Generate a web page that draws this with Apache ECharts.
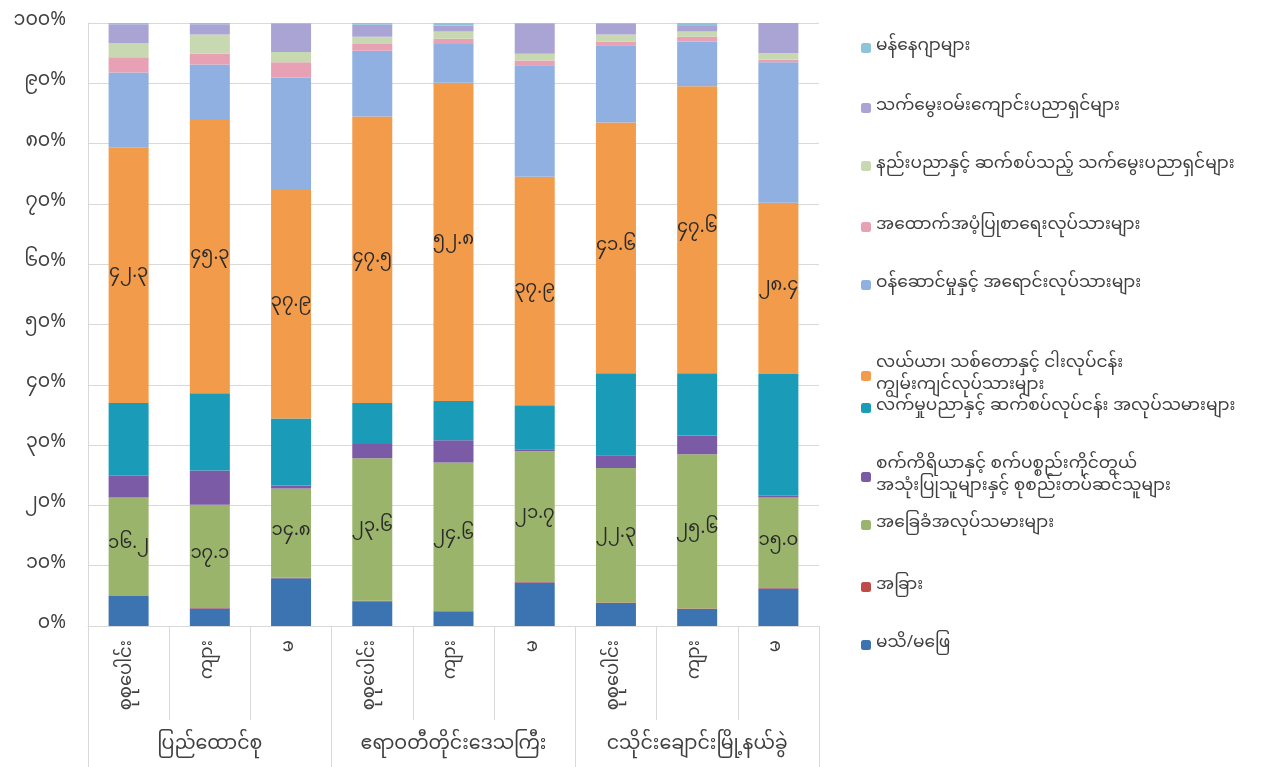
<!DOCTYPE html>
<html>
<head>
<meta charset="utf-8">
<script src="https://cdn.jsdelivr.net/npm/echarts@6/dist/echarts.min.js"></script>
<style>
html,body{margin:0;padding:0;background:#fff;}
#chart{width:1263px;height:767px;}
</style>
</head>
<body>
<div id="chart"></div>
<script>
// ---- data ----
const categories = ['စုစုပေါင်း','ကျား','မ','စုစုပေါင်း','ကျား','မ','စုစုပေါင်း','ကျား','မ'];
const groups = ['ပြည်ထောင်စု','ဧရာဝတီတိုင်းဒေသကြီး','ငသိုင်းချောင်းမြို့နယ်ခွဲ'];
const yTickLabels = ['၀%','၁၀%','၂၀%','၃၀%','၄၀%','၅၀%','၆၀%','၇၀%','၈၀%','၉၀%','၁၀၀%'];

// stack order: bottom -> top
const seriesNames = [
  'မသိ/မဖြေ',
  'အခြား',
  'အခြေခံအလုပ်သမားများ',
  'စက်ကိရိယာနှင့် စက်ပစ္စည်းကိုင်တွယ်\nအသုံးပြုသူများနှင့် စုစည်းတပ်ဆင်သူများ',
  'လက်မှုပညာနှင့် ဆက်စပ်လုပ်ငန်း အလုပ်သမားများ',
  'လယ်ယာ၊ သစ်တောနှင့် ငါးလုပ်ငန်း\nကျွမ်းကျင်လုပ်သားများ',
  'ဝန်ဆောင်မှုနှင့် အရောင်းလုပ်သားများ',
  'အထောက်အပံ့ပြုစာရေးလုပ်သားများ',
  'နည်းပညာနှင့် ဆက်စပ်သည့် သက်မွေးပညာရှင်များ',
  'သက်မွေးဝမ်းကျောင်းပညာရှင်များ',
  'မန်နေဂျာများ'
];
const unknown      = [5.0, 2.9, 7.9, 4.1, 2.4, 7.2, 3.8, 2.8, 6.2];
const other        = [0.1, 0.1, 0.1, 0.1, 0.1, 0.1, 0.1, 0.1, 0.1];
const elementary   = [16.2, 17.1, 14.8, 23.6, 24.6, 21.7, 22.3, 25.6, 15.0];
const operators    = [3.6, 5.7, 0.5, 2.4, 3.7, 0.3, 2.1, 3.1, 0.3];
const craft        = [12.1, 12.8, 11.1, 6.8, 6.5, 7.3, 13.6, 10.3, 20.2];
const agriculture  = [42.3, 45.3, 37.9, 47.5, 52.8, 37.9, 41.6, 47.6, 28.4];
const service      = [12.5, 9.2, 18.6, 10.9, 6.4, 18.5, 12.8, 7.4, 23.3];
const clerical     = [2.5, 1.8, 2.6, 1.1, 0.9, 0.8, 0.6, 0.8, 0.4];
const technicians  = [2.4, 3.2, 1.7, 1.2, 1.2, 1.1, 1.2, 0.9, 1.1];
const professionals= [3.1, 1.7, 4.7, 2.0, 1.0, 5.0, 1.8, 0.9, 5.0];
const managers     = [0.2, 0.2, 0.1, 0.3, 0.4, 0.1, 0.1, 0.5, 0.0];
const seriesData = [unknown, other, elementary, operators, craft, agriculture, service, clerical, technicians, professionals, managers];
const labelledSeries = [2, 5];

// ---- style ----
const colors = ['#3c74b2','#be4b48','#9bb46c','#7b5aa6','#1a9cb8','#f29b4b','#8fb0e0','#e8a1b4','#c8d8b0','#aaa4d4','#8ec3dc'];
const FONT = '"Noto Sans Myanmar","Padauk","Myanmar Text","Noto Sans",sans-serif';
const myDigits = ['၀','၁','၂','၃','၄','၅','၆','၇','၈','၉'];
function toMy(s){ return String(s).replace(/[0-9]/g, d => myDigits[+d]); }

const series = seriesNames.map((name, i) => ({
  name: name,
  type: 'bar',
  stack: 'total',
  barWidth: 40,
  itemStyle: { color: colors[i] },
  label: labelledSeries.includes(i) ? {
    show: true,
    position: 'inside',
    fontFamily: FONT,
    fontSize: 18,
    color: '#2a2a2a',
    formatter: p => toMy(p.value.toFixed(1))
  } : { show: false },
  emphasis: { disabled: true },
  data: seriesData[i]
}));

// legend: reversed order, each positioned individually
const legendTops = [32, 92, 150, 211, 269, 349, 392, 450, 509, 571, 629];
const legendOrder = seriesNames.slice().reverse();
const legends = legendOrder.map((name, k) => ({
  data: [name],
  left: 856,
  top: legendTops[k],
  orient: 'vertical',
  itemWidth: 10,
  itemHeight: 10,
  itemGap: 0,
  selectedMode: false,
  textStyle: { fontFamily: FONT, fontSize: 17, color: '#404040', lineHeight: 22 }
}));

const chart = echarts.init(document.getElementById('chart'));
chart.setOption({
  animation: false,
  backgroundColor: '#ffffff',
  color: colors,
  grid: { left: 88, right: 444, top: 23, bottom: 141, containLabel: false },
  legend: legends,
  xAxis: [
    {
      type: 'category',
      data: categories,
      position: 'bottom',
      axisLine: { show: true, lineStyle: { color: '#d9d9d9', width: 1 } },
      axisTick: { show: true, length: 94, interval: 0, lineStyle: { color: '#d9d9d9' } },
      axisLabel: { interval: 0, rotate: 90, margin: 14, fontFamily: FONT, fontSize: 18, color: '#404040' }
    },
    {
      type: 'category',
      data: groups,
      position: 'bottom',
      axisLine: { show: false },
      axisTick: { show: true, length: 141, interval: 0, lineStyle: { color: '#d9d9d9' } },
      axisLabel: { interval: 0, margin: 111, fontFamily: FONT, fontSize: 19, color: '#404040' }
    }
  ],
  yAxis: {
    type: 'value',
    min: 0,
    max: 100,
    interval: 10,
    axisLine: { show: true, lineStyle: { color: '#d9d9d9' } },
    axisTick: { show: false },
    splitLine: { show: true, lineStyle: { color: '#d9d9d9' } },
    axisLabel: { fontFamily: FONT, fontSize: 19, color: '#404040', margin: 22,
      formatter: v => yTickLabels[Math.round(v / 10)] }
  },
  series: series
});
</script>
</body>
</html>
